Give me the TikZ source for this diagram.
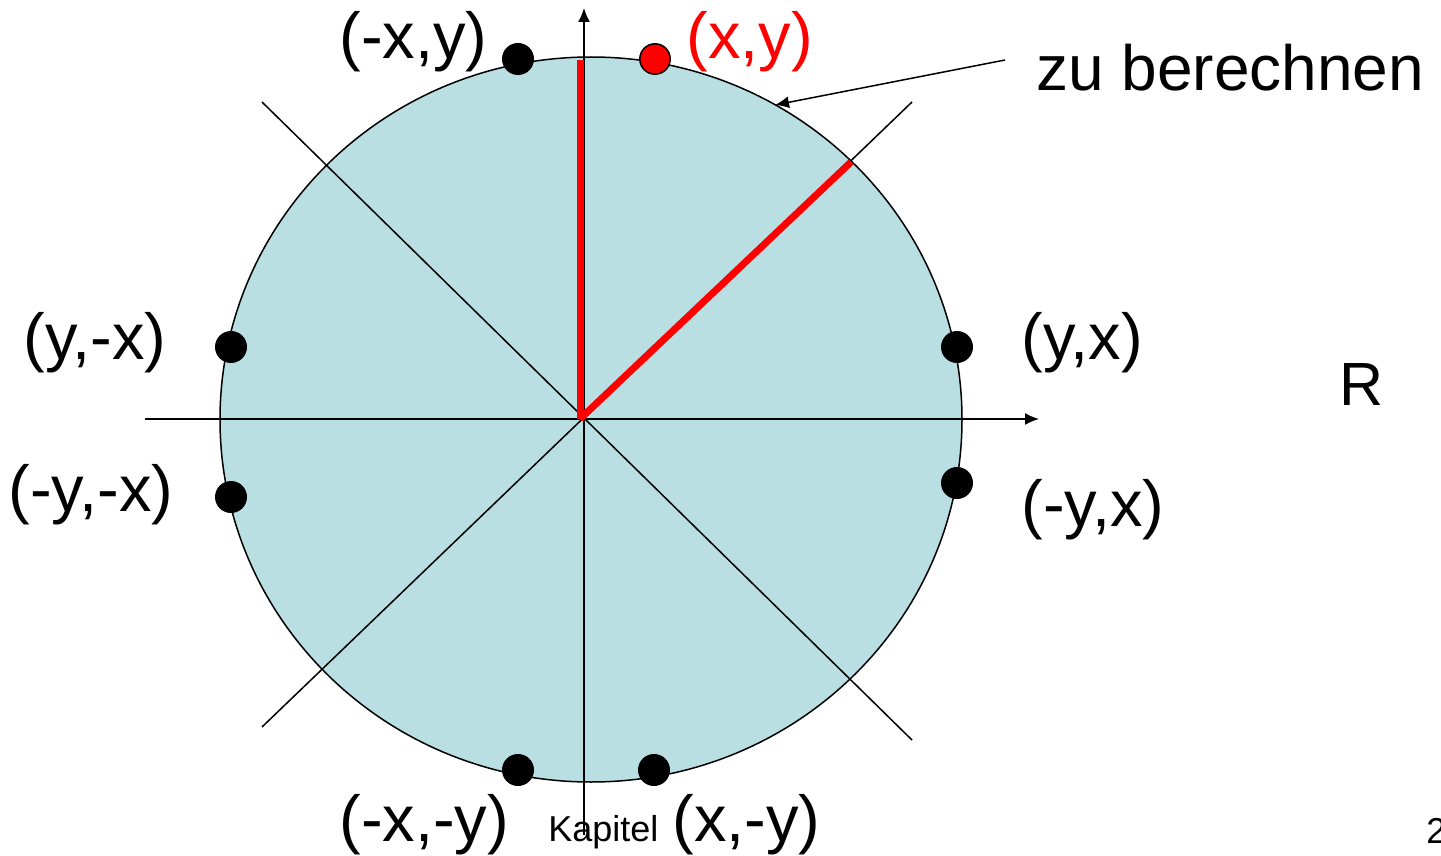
\documentclass[tikz,border=0pt]{standalone}
\usepackage{fontspec}
\setmainfont{Liberation Sans}
\usetikzlibrary{arrows.meta}
\definecolor{discfill}{RGB}{185,223,227}
\definecolor{hot}{RGB}{255,0,0}
\tikzset{
  thinline/.style={draw=black, line width=0.75pt},
  redline/.style={draw=hot, line width=3.5pt},
  dotblack/.style={circle, fill=black, inner sep=0pt, minimum size=16pt},
  dotred/.style={circle, fill=hot, draw=black, line width=0.75pt, inner sep=0pt, minimum size=15.2pt},
  lbl/.style={inner sep=0pt, font=\fontsize{32.5}{39}\selectfont},
  small/.style={inner sep=0pt, font=\fontsize{18}{22}\selectfont},
  tip/.style={-{Latex[length=7pt,width=6pt]}, fill=black}
}
\begin{document}
\begin{tikzpicture}[x=0.5pt,y=-0.5pt]
\useasboundingbox (0,0) rectangle (1441,856);
\clip (0,0) rectangle (1441,856);
% disc
\path[fill=discfill, draw=black, line width=0.75pt] (591,419.5) ellipse [x radius=371, y radius=362.5];
% diagonals
\coordinate (d1a) at (262,102); \coordinate (d1b) at (912,740);
\coordinate (d2a) at (912,102); \coordinate (d2b) at (262,727);
\draw[thinline] (d1a) -- (d1b);
\draw[thinline] (d2a) -- (d2b);
% axes
\coordinate (ys) at (584,835); \coordinate (ye) at (584,8);
\coordinate (xs) at (145,419); \coordinate (xe) at (1039,419);
\draw[thinline, tip] (ys) -- (ye);
\draw[thinline, tip] (xs) -- (xe);
% red radii
\coordinate (o) at (580,419);
\coordinate (rtop) at (580,60);
\coordinate (rdiag) at (851,162);
\draw[redline] (o) -- (rtop);
\draw[redline] (o) -- (rdiag);
% dots
\node[dotblack] (pmxy) at (518,59) {};
\node[dotred] (pxy) at (655,59) {};
\node[dotblack] (pymx) at (231,347) {};
\node[dotblack] (pmymx) at (231,497) {};
\node[dotblack] (pyx) at (957,347) {};
\node[dotblack] (pmyx) at (957,483) {};
\node[dotblack] (pmxmy) at (518,770) {};
\node[dotblack] (pxmy) at (654,770) {};
% labels
\node[lbl, anchor=west] (lmxy) at (339,42) {(-x,y)};
\node[lbl, anchor=west, text=hot] (lxy) at (686,42) {(x,y)};
\node[lbl, anchor=west] (lymx) at (23,343) {(y,-x)};
\node[lbl, anchor=west] (lmymx) at (8,495) {(-y,-x)};
\node[lbl, anchor=west] (lyx) at (1021,343) {(y,x)};
\node[lbl, anchor=west] (lmyx) at (1021,510) {(-y,x)};
\node[lbl, anchor=west] (lmxmy) at (339,825) {(-x,-y)};
\node[small, anchor=base west] (kap) at (548,841) {Kapitel};
\node[lbl, anchor=west] (lxmy) at (672,825) {(x,-y)};
\node[lbl, anchor=base west, font=\fontsize{32}{38}\selectfont] (zu) at (1036,91) {zu berechnen};
\node[lbl, anchor=base west, font=\fontsize{30.5}{36}\selectfont] (R) at (1339,405) {R};
\node[small, anchor=base west] (pg) at (1426,843) {2};
% pointer arrow
\coordinate (ps) at (1005,60);
\coordinate (pe) at (775,105);
\draw[thinline, tip] (ps) -- (pe);
\end{tikzpicture}
\end{document}
